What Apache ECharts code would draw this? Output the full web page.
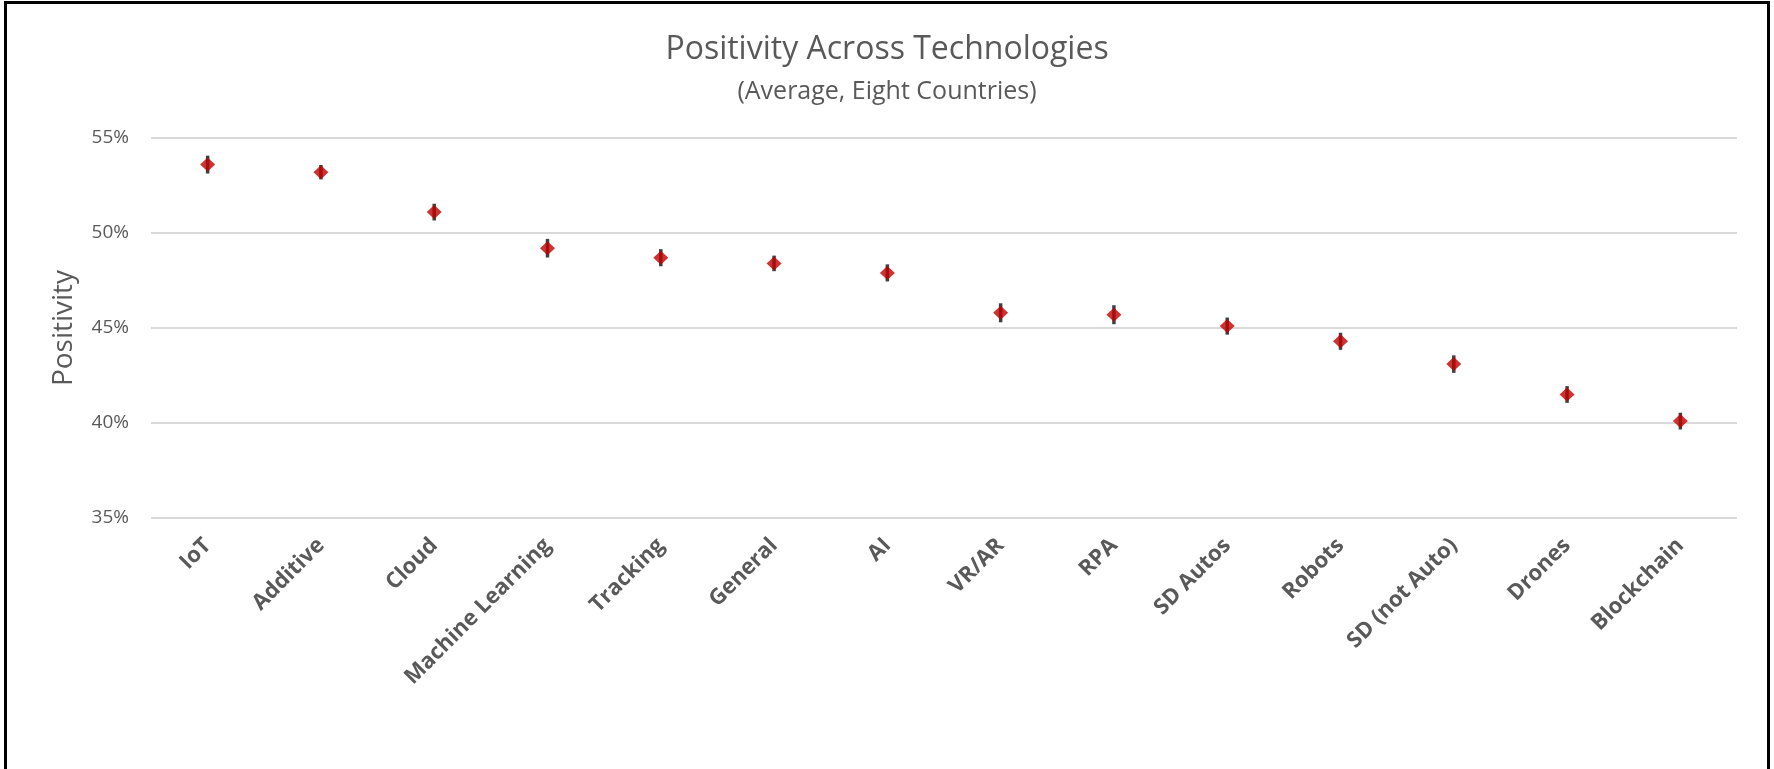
<!DOCTYPE html>
<html>
<head>
<meta charset="utf-8">
<script src="https://cdn.jsdelivr.net/npm/echarts@6/dist/echarts.min.js"></script>
<style>
html,body{margin:0;padding:0;background:#fff;}
#chart{width:1774px;height:769px;}
</style>
</head>
<body>
<div id="chart"></div>
<script>
const categories = ['IoT','Additive','Cloud','Machine Learning','Tracking','General','AI','VR/AR','RPA','SD Autos','Robots','SD (not Auto)','Drones','Blockchain'];
const positivity = [53.6, 53.2, 51.1, 49.2, 48.7, 48.4, 47.9, 45.8, 45.7, 45.1, 44.3, 43.1, 41.5, 40.1];
const errorMargin = [0.47, 0.38, 0.44, 0.49, 0.45, 0.41, 0.45, 0.50, 0.50, 0.45, 0.45, 0.46, 0.44, 0.44];
const yTicks = { min: 35, max: 55, interval: 5 };

const errData = positivity.map((v, i) => [i, v - errorMargin[i], v + errorMargin[i]]);

const chart = echarts.init(document.getElementById('chart'));
chart.setOption({
  backgroundColor: '#fff',
  animation: false,
  title: [
    { text: 'Positivity Across Technologies', left: 'center', top: 29,
      textStyle: { fontFamily: 'Open Sans', fontSize: 32, fontWeight: 'normal', color: '#595959' } },
    { text: '(Average, Eight Countries)', left: 'center', top: 74,
      textStyle: { fontFamily: 'Open Sans', fontSize: 25, fontWeight: 'normal', color: '#595959' } }
  ],
  graphic: [{
    type: 'rect', silent: true, z: 100,
    shape: { x: 5.5, y: 2.5, width: 1763, height: 900 },
    style: { fill: 'none', stroke: '#000', lineWidth: 3 }
  }],
  grid: { left: 151, right: 37, top: 138, bottom: 251 },
  xAxis: {
    type: 'category',
    data: categories,
    axisLine: { show: false },
    axisTick: { show: false },
    axisLabel: {
      rotate: 45, margin: 24, interval: 0,
      fontFamily: 'Open Sans', fontSize: 22, fontWeight: 'bold', color: '#595959'
    }
  },
  yAxis: {
    type: 'value',
    min: yTicks.min, max: yTicks.max, interval: yTicks.interval,
    name: 'Positivity', nameLocation: 'middle', nameGap: 73,
    nameTextStyle: { fontFamily: 'Open Sans', fontSize: 28, color: '#595959' },
    axisLine: { show: false },
    axisTick: { show: false },
    axisLabel: { formatter: '{value}%', margin: 22, fontFamily: 'Open Sans', fontSize: 19, color: '#595959' },
    splitLine: { lineStyle: { color: '#d9d9d9', width: 2 } }
  },
  series: [
    {
      type: 'custom',
      data: errData,
      z: 2,
      renderItem: function (params, api) {
        const x = api.value(0);
        const lo = api.coord([x, api.value(1)]);
        const hi = api.coord([x, api.value(2)]);
        return {
          type: 'line',
          shape: { x1: lo[0], y1: lo[1], x2: hi[0], y2: hi[1] },
          style: { stroke: '#404040', lineWidth: 3.5 }
        };
      }
    },
    {
      type: 'scatter',
      data: positivity,
      z: 3,
      symbol: 'diamond',
      symbolSize: [15, 14],
      itemStyle: { color: '#C00000' }
    }
  ]
});
</script>
</body>
</html>
